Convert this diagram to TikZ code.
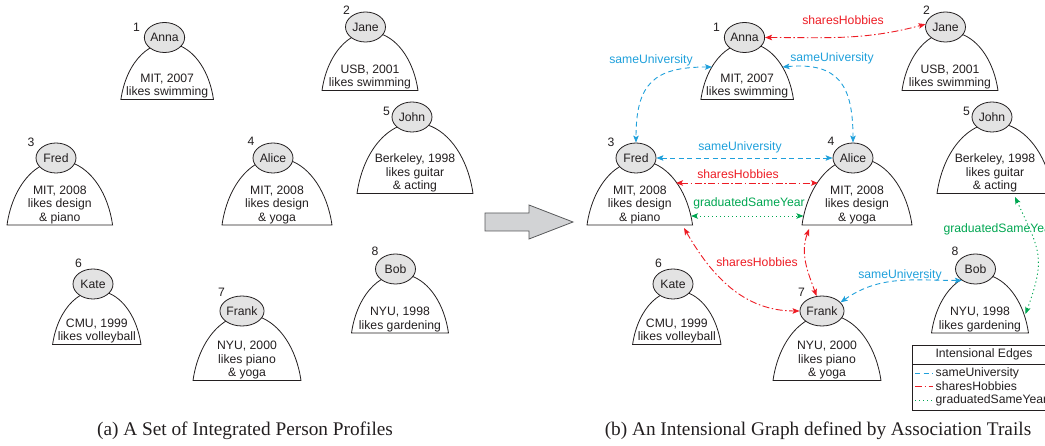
\documentclass[tikz,border=0pt]{standalone}
\usepackage{fontspec}
\setmainfont{Liberation Serif}
\setsansfont{Liberation Sans}
\usepackage{tikz}
\usetikzlibrary{arrows.meta,shapes.geometric}
\definecolor{ink}{HTML}{231F20}
\definecolor{headfill}{HTML}{E3E3E3}
\definecolor{unicolor}{HTML}{1FA0DB}
\definecolor{hobbycolor}{HTML}{ED1C24}
\definecolor{yearcolor}{HTML}{00A651}
\definecolor{arrowfill}{HTML}{D2D3D5}
\definecolor{arrowline}{HTML}{58595B}
\newcommand{\bodyfont}{\sffamily\fontsize{12.2}{13.5}\selectfont}
\newcommand{\capfont}{\rmfamily\fontsize{19.3}{22}\selectfont}
\tikzset{
  head/.style={ellipse, draw=ink, fill=headfill, line width=0.8pt, minimum width=40pt, minimum height=30pt, inner sep=0pt, text=ink},
  body/.style={draw=ink, line width=0.8pt},
  info/.style={anchor=south, align=center, inner sep=1pt, text=ink},
  num/.style={text=ink, inner sep=0pt},
  link/.style={line width=0.9pt, {Stealth[length=7pt,width=5.5pt,inset=1.5pt]}-{Stealth[length=7pt,width=5.5pt,inset=1.5pt]}},
  uni/.style={unicolor, dash pattern=on 5pt off 3.5pt},
  hobby/.style={hobbycolor, dash pattern=on 7pt off 2.5pt on 1.5pt off 2.5pt},
  year/.style={yearcolor, dash pattern=on 1.2pt off 2.8pt},
  legendbox/.style={draw=ink, line width=0.8pt},
  bigarrow/.style={fill=arrowfill, draw=arrowline, line width=0.8pt}
}
\begin{document}
\begin{tikzpicture}[x=1pt, y=1pt, font=\bodyfont]
\useasboundingbox (0,0) rectangle (1045,445);
% the same eight profiles in both panels
\foreach \dx/\pnl in {0/a,580/b}{
  \foreach \name/\idx/\hx/\hy/\cx/\w/\base/\nx/\ny/\info in {
      Anna/1/164.5/407.5/167.2/46.3/345.5/136.5/417.5/{MIT, 2007\\likes swimming},
      Jane/2/365.5/418/370/48/354.5/346.5/435/{USB, 2001\\likes swimming},
      Fred/3/56/287/59.8/52.8/220/31/303/{MIT, 2008\\likes design\\\& piano},
      Alice/4/273/287/277/55/220/251/304/{MIT, 2008\\likes design\\\& yoga},
      John/5/412/328/415/58/251.5/386.5/333.5/{Berkeley, 1998\\likes guitar\\\& acting},
      Kate/6/93/161/96.8/44.2/100.5/78.5/182/{CMU, 1999\\likes volleyball},
      Frank/7/242/134/247/54/64.5/221.5/152.5/{NYU, 2000\\likes piano\\\& yoga},
      Bob/8/395.5/176/400/48.5/112/375/193.5/{NYU, 1998\\likes gardening}}{
    \pgfmathsetmacro{\rx}{1.023*\w}
    \pgfmathsetmacro{\ry}{1.543*\w}
    \draw[body] (\cx+\dx-\w,\base) arc[start angle=167.8, end angle=12.2, x radius=\rx, y radius=\ry] -- cycle;
    \node[info] (\pnl\name-info) at (\cx+\dx,\base) {\info};
    \node[head] (\pnl\name) at (\hx+\dx,\hy) {\name};
    \node[num] (\pnl\name-num) at (\nx+\dx,\ny) {\idx};
  }
}
\draw[bigarrow] (485,214) -- (529,214) -- (529,206) -- (573,223) -- (529,240) -- (529,232) -- (485,232) -- cycle;

% ends on the bodies of panel (b)
\coordinate (AnnaL) at (712,378);
\coordinate (AnnaR) at (782.5,378);
\coordinate (FredR1) at (676,262);
\coordinate (AliceL1) at (818,262);
\coordinate (FredR0) at (691,229);
\coordinate (AliceL0) at (803.5,229);
\coordinate (FredB) at (684,217);
\coordinate (AliceB) at (809,216);
\coordinate (JohnB) at (1015,248);
\coordinate (BobR) at (1025.5,131);

\draw[link,hobby] (bAnna.east) to[out=0,in=195] (bJane.172);
\draw[link,uni] (AnnaL) to[out=180,in=90,looseness=1.4] (bFred.north);
\draw[link,uni] (AnnaR) to[out=5,in=90,looseness=1.4] (bAlice.north);
\draw[link,uni] (bFred.east) -- (bAlice.west);
\draw[link,hobby] (FredR1) -- (AliceL1);
\draw[link,year] (FredR0) -- (AliceL0);
\draw[link,hobby] (FredB) to[out=-60,in=180] (bFrank.west);
\draw[link,hobby] (AliceB) to[out=250,in=110] (bFrank.110);
\draw[link,uni] (bFrank.25) to[out=35,in=180] (bBob.220);
\draw[link,year] (JohnB) to[out=-65,in=70,looseness=1.3] (BobR);

\node[text=hobbycolor] (lblAnnaJane) at (843,425) {sharesHobbies};
\node[text=unicolor] (lblAnnaFred) at (651,385) {sameUniversity};
\node[text=unicolor] (lblAnnaAlice) at (832,387) {sameUniversity};
\node[text=unicolor] (lblFredAlice) at (740,298) {sameUniversity};
\node[text=hobbycolor] (lblFredAliceH) at (738,271) {sharesHobbies};
\node[text=yearcolor] (lblFredAliceY) at (749,242) {graduatedSameYear};
\node[text=hobbycolor] (lblFrank) at (757,183) {sharesHobbies};
\node[text=unicolor] (lblFrankBob) at (900,170) {sameUniversity};
\node[text=yearcolor, anchor=west] (lblJohnBob) at (940,216) {graduatedSameYear};

% legend
\draw[legendbox] (912,35) rectangle (1060,100);
\draw[legendbox] (912,81) -- (1060,81);
\node[text=ink] (legTitle) at (984,90.5) {Intensional Edges};
\foreach \y/\kind/\lbl in {72/uni/sameUniversity,58.5/hobby/sharesHobbies,45/year/graduatedSameYear}{
  \draw[\kind, line width=0.6pt] (915,\y) -- (933,\y);
  \node[anchor=west, inner sep=0pt, text=ink] (leg-\kind) at (935.5,\y) {\lbl};
}

\node[font=\capfont, anchor=base, text=ink] (capA) at (245,10) {(a) A Set of Integrated Person Profiles};
\node[font=\capfont, anchor=base, text=ink] (capB) at (818,10) {(b) An Intensional Graph defined by Association Trails};
\end{tikzpicture}
\end{document}
